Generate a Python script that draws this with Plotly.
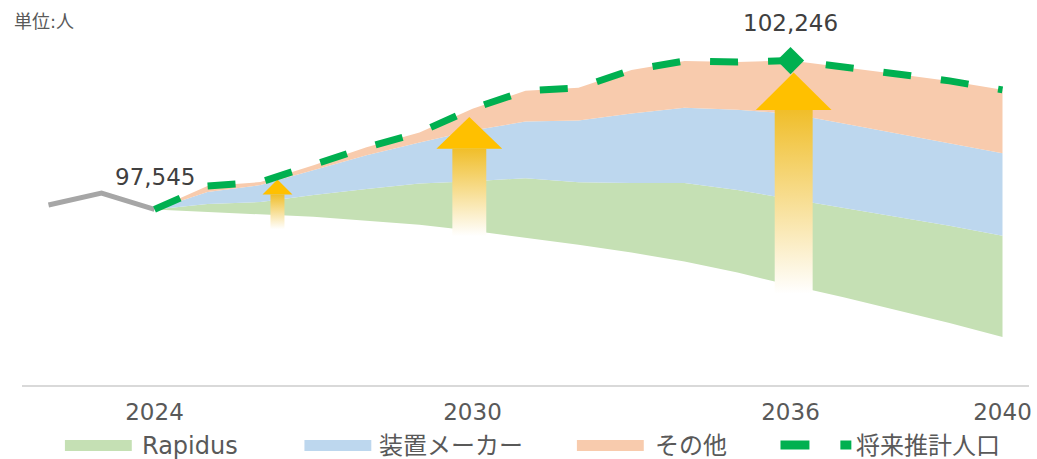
import plotly.graph_objects as go

# ---------------- data ----------------
actual_years = [2022, 2023, 2024]
actual_pop = [97686, 98063, 97545]

years = list(range(2024, 2041))
baseline = [97545, 97467, 97404, 97310, 97185, 97059, 96871, 96652, 96432,
            96182, 95900, 95555, 95147, 94771, 94364, 93957, 93518]
rapidus = [0, 251, 376, 689, 1003, 1301, 1567, 1880, 1974,
           2194, 2476, 2601, 2727, 2821, 2946, 3071, 3197]
equipment = [0, 376, 533, 784, 1066, 1301, 1598, 1786, 1943,
             2194, 2382, 2539, 2695, 2664, 2633, 2601, 2601]
others = [0, 188, 94, 157, 251, 313, 689, 972, 1034,
          1379, 1473, 1504, 1677, 1786, 1880, 1974, 2006]
projection = [97545, 98281, 98407, 98940, 99504, 99974, 100726, 101290, 101384,
              101948, 102230, 102199, 102246, 102042, 101823, 101604, 101321]

tick_years = [2024, 2030, 2036, 2040]
series_names = ["Rapidus", "装置メーカー", "その他", "将来推計人口"]
labelled_years = [2024, 2036]
unit_label = "単位:人"

# decorative arrows: (year, tail value, head-base value, tip value)
arrows = [(2026.32, 96920, 98017, 98487),
          (2029.94, 96701, 99459, 100462),
          (2036.06, 94883, 100681, 101872)]
arrow_sizes = [(0.565, 0.264), (1.243, 0.64), (1.43, 0.716)]  # head width, shaft width (years)

# ---------------- styles ----------------
C_GREEN = "#C5E0B4"
C_BLUE = "#BDD7EE"
C_ORANGE = "#F8CBAD"
C_LINE = "#00B050"
C_GRAY = "#A6A6A6"
C_ARROW = "#FFC000"
FONT = "DejaVu Sans, Noto Sans CJK JP, sans-serif"

W, H = 1037, 459
ML, MR, MT, MB = 22, 6, 5, 74
PW, PH = W - ML - MR, H - MT - MB


def px_x(px):
    return (px - ML) / PW


def px_y(py):
    return (H - MB - py) / PH


fig = go.Figure()

# stacked areas (cumulative)
c0 = baseline
c1 = [a + b for a, b in zip(c0, rapidus)]
c2 = [a + b for a, b in zip(c1, equipment)]
c3 = [a + b for a, b in zip(c2, others)]

fig.add_trace(go.Scatter(x=years, y=c0, mode="lines", line=dict(width=0),
                         showlegend=False, hoverinfo="skip"))
for cum, col, name in [(c1, C_GREEN, series_names[0]),
                       (c2, C_BLUE, series_names[1]),
                       (c3, C_ORANGE, series_names[2])]:
    fig.add_trace(go.Scatter(x=years, y=cum, mode="lines", line=dict(width=0),
                             fill="tonexty", fillcolor=col, name=name,
                             showlegend=False))

# actual
fig.add_trace(go.Scatter(x=actual_years, y=actual_pop, mode="lines",
                         line=dict(color=C_GRAY, width=5), showlegend=False,
                         hoverinfo="skip"))

# arrows
for (xa, tail, hb, tip), (hw, sw) in zip(arrows, arrow_sizes):
    fig.add_trace(go.Scatter(
        x=[xa - sw / 2, xa + sw / 2, xa + sw / 2, xa - sw / 2, xa - sw / 2],
        y=[tail, tail, hb, hb, tail], mode="none", fill="toself",
        fillgradient=dict(type="vertical",
                          colorscale=[[0, "#FFFFFF"], [1, "#F0BE2A"]],
                          start=tail, stop=hb),
        showlegend=False, hoverinfo="skip"))
    fig.add_trace(go.Scatter(
        x=[xa - hw / 2, xa + hw / 2, xa, xa - hw / 2],
        y=[hb, hb, tip, hb], mode="none", fill="toself", fillcolor=C_ARROW,
        showlegend=False, hoverinfo="skip"))

# projection line
fig.add_trace(go.Scatter(x=years, y=projection, mode="lines", name=series_names[3],
                         line=dict(color=C_LINE, width=7, dash="28px,30px"),
                         showlegend=False))
imax = years.index(2036)
fig.add_trace(go.Scatter(x=[years[imax]], y=[projection[imax]], mode="markers",
                         marker=dict(symbol="diamond", size=21, color=C_LINE),
                         showlegend=False, hoverinfo="skip"))

annotations = []
for yr in labelled_years:
    v = projection[years.index(yr)]
    annotations.append(dict(x=yr, y=v, xref="x", yref="y", text=f"{v:,}",
                            showarrow=False, yshift=32 if yr == 2024 else 38,
                            font=dict(family=FONT, size=23, color="#404040")))

annotations.append(dict(x=px_x(12), y=px_y(21), xref="paper", yref="paper",
                        xanchor="left", yanchor="middle", text=unit_label,
                        showarrow=False,
                        font=dict(family=FONT, size=18, color="#595959")))

# manual legend
shapes = []
legend_items = [(65, 132, 140, C_GREEN, series_names[0]),
                (305, 372, 378, C_BLUE, series_names[1]),
                (578, 645, 654, C_ORANGE, series_names[2])]
for x0, x1, tx, col, name in legend_items:
    shapes.append(dict(type="rect", xref="paper", yref="paper",
                       x0=px_x(x0), x1=px_x(x1), y0=px_y(451), y1=px_y(440),
                       fillcolor=col, line=dict(width=0)))
    annotations.append(dict(x=px_x(tx), y=px_y(446), xref="paper", yref="paper",
                            xanchor="left", yanchor="middle", text=name,
                            showarrow=False,
                            font=dict(family=FONT, size=24, color="#595959")))
shapes.append(dict(type="line", xref="paper", yref="paper",
                   x0=px_x(782), x1=px_x(811), y0=px_y(445), y1=px_y(445),
                   line=dict(color=C_LINE, width=9)))
shapes.append(dict(type="line", xref="paper", yref="paper",
                   x0=px_x(842), x1=px_x(853), y0=px_y(445), y1=px_y(445),
                   line=dict(color=C_LINE, width=9)))
annotations.append(dict(x=px_x(856), y=px_y(446), xref="paper", yref="paper",
                        xanchor="left", yanchor="middle", text=series_names[3],
                        showarrow=False,
                        font=dict(family=FONT, size=24, color="#595959")))

fig.update_layout(
    width=W, height=H, autosize=False,
    margin=dict(l=ML, r=MR, t=MT, b=MB, pad=0),
    paper_bgcolor="white", plot_bgcolor="white",
    showlegend=False,
    xaxis=dict(range=[2021.5, 2040.5], showgrid=False, zeroline=False,
               showline=True, linecolor="#D9D9D9", linewidth=1.5,
               tickmode="array", tickvals=tick_years,
               ticktext=[str(t) for t in tick_years], ticks="",
               tickfont=dict(family=FONT, size=23, color="#595959"),
               ticklabelstandoff=6, fixedrange=True),
    yaxis=dict(range=[92000, 104000], visible=False, fixedrange=True),
    shapes=shapes,
    annotations=annotations,
)

fig.write_html("out.html")
